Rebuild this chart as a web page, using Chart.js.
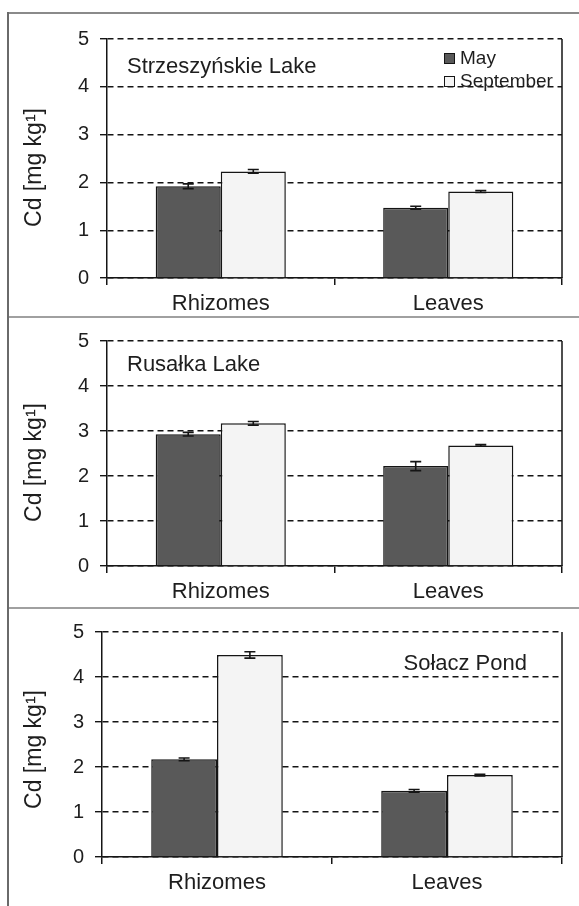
<!DOCTYPE html>
<html>
<head>
<meta charset="utf-8">
<script src="https://cdn.jsdelivr.net/npm/chart.js@4.4.0/dist/chart.umd.min.js"></script>
<style>
  html, body { margin: 0; padding: 0; background: #fff; }
  #page { position: relative; width: 579px; height: 906px; overflow: hidden; }
  #page canvas { position: absolute; left: 9px; }
  .rule { position: absolute; background: #8a8a8a; }
</style>
</head>
<body>
<div id="page">
  <div class="rule" style="left:7px; top:12px; width:572px; height:2px;"></div>
  <div class="rule" style="left:7px; top:12px; width:2px; height:894px; background:#6a6a6a;"></div>
  <div class="rule" style="left:9px; top:316px; width:570px; height:2px; background:#a0a0a0;"></div>
  <div class="rule" style="left:9px; top:607px; width:570px; height:2px; background:#a0a0a0;"></div>
  <canvas id="panel-strz" width="570" height="302" style="top:14px"></canvas>
  <canvas id="panel-rus" width="570" height="289" style="top:318px"></canvas>
  <canvas id="panel-sol" width="570" height="297" style="top:609px"></canvas>
</div>
<script>
// categories and tick labels
const categories = ['Rhizomes', 'Leaves'];
const yTicks = [0, 1, 2, 3, 4, 5];
const seriesNames = ['May', 'September'];

// Strzeszyńskie Lake
const strzMay = [1.92, 1.47];
const strzSep = [2.23, 1.81];
const strzMayErr = [0.05, 0.03];
const strzSepErr = [0.04, 0.02];

// Rusałka Lake
const rusMay = [2.93, 2.22];
const rusSep = [3.17, 2.68];
const rusMayErr = [0.04, 0.10];
const rusSepErr = [0.04, 0.02];

// Sołacz Pond
const solMay = [2.17, 1.47];
const solSep = [4.49, 1.82];
const solMayErr = [0.03, 0.03];
const solSepErr = [0.07, 0.02];

const FONT = "'Liberation Sans', Arial, Helvetica, sans-serif";
const TEXT = '#1e1e1e';
const LINE = '#151515';
const MAY_COLOR = '#595959';
const SEP_COLOR = '#f4f4f4';

/**
 * Draws error bars, right frame line, axis title, panel name and (optionally) legend
 */
const panelDecor = {
    id: 'panelDecor',
    afterDatasetsDraw(chart, args, opts) {
        const ctx = chart.ctx;
        const area = chart.chartArea;
        const yScale = chart.scales.y;

        // right frame
        ctx.save();
        ctx.strokeStyle = LINE;
        ctx.lineWidth = 1.5;
        ctx.beginPath();
        ctx.moveTo(Math.round(area.right), area.top);
        ctx.lineTo(Math.round(area.right), area.bottom);
        ctx.stroke();

        // error bars
        ctx.lineWidth = 1.6;
        chart.data.datasets.forEach((ds, di) => {
            const meta = chart.getDatasetMeta(di);
            meta.data.forEach((bar, i) => {
                const v = ds.data[i];
                const e = ds.errors[i];
                const yHi = yScale.getPixelForValue(v + e);
                const yLo = yScale.getPixelForValue(v - e);
                const x = bar.x;
                ctx.beginPath();
                ctx.moveTo(x, yHi);
                ctx.lineTo(x, yLo);
                ctx.moveTo(x - 5.5, yHi);
                ctx.lineTo(x + 5.5, yHi);
                ctx.moveTo(x - 5.5, yLo);
                ctx.lineTo(x + 5.5, yLo);
                ctx.stroke();
            });
        });

        // y axis title
        ctx.fillStyle = TEXT;
        ctx.font = '23px ' + FONT;
        ctx.textAlign = 'center';
        ctx.textBaseline = 'middle';
        ctx.save();
        ctx.translate(26, (area.top + area.bottom) / 2 + opts.titleShift);
        ctx.rotate(-Math.PI / 2);
        ctx.fillText('Cd [mg kg\u00B9]', 0, 0);
        ctx.restore();

        // panel name
        ctx.font = '22px ' + FONT;
        ctx.textBaseline = 'middle';
        if (opts.nameAlign === 'right') {
            ctx.textAlign = 'right';
            ctx.fillText(opts.name, area.right + opts.nameX, area.top + opts.nameY);
        } else {
            ctx.textAlign = 'left';
            ctx.fillText(opts.name, area.left + opts.nameX, area.top + opts.nameY);
        }

        // legend
        if (opts.legend) {
            ctx.font = '19px ' + FONT;
            ctx.textAlign = 'left';
            chart.data.datasets.forEach((ds, di) => {
                const cy = Math.round(area.top + 19 + di * 23);
                const sx = Math.round(area.right - 118);
                ctx.fillStyle = ds.backgroundColor;
                ctx.fillRect(sx, cy - 5, 11, 11);
                ctx.strokeStyle = LINE;
                ctx.lineWidth = 1;
                ctx.strokeRect(sx + 0.5, cy - 4.5, 10, 10);
                ctx.fillStyle = TEXT;
                ctx.fillText(ds.label, area.right - 102, cy + 1);
            });
        }
        ctx.restore();
    }
};

function buildPanel(canvasId, may, sep, mayErr, sepErr, layout, decor) {
    const canvas = document.getElementById(canvasId);
    const ctx = canvas.getContext('2d');

    return new Chart(ctx, {
        type: 'bar',
        data: {
            labels: categories,
            datasets: [{
                label: seriesNames[0],
                data: may,
                errors: mayErr,
                backgroundColor: MAY_COLOR,
                borderColor: LINE,
                borderWidth: 1.5,
                categoryPercentage: 0.572,
                barPercentage: 1
            }, {
                label: seriesNames[1],
                data: sep,
                errors: sepErr,
                backgroundColor: SEP_COLOR,
                borderColor: LINE,
                borderWidth: 1.5,
                categoryPercentage: 0.572,
                barPercentage: 1
            }]
        },
        options: {
            responsive: false,
            animation: false,
            layout: {
                padding: { top: layout.top, right: layout.right, left: 0, bottom: 0 }
            },
            plugins: {
                legend: { display: false },
                tooltip: { enabled: false },
                panelDecor: decor
            },
            scales: {
                x: {
                    grid: {
                        offset: true,
                        drawOnChartArea: false,
                        drawTicks: true,
                        tickLength: 7,
                        lineWidth: 1.5,
                        color: LINE
                    },
                    border: { color: LINE, width: 1.5 },
                    ticks: {
                        color: TEXT,
                        padding: 6,
                        font: { family: FONT, size: 22 }
                    },
                    afterFit: (scale) => { scale.height = layout.xHeight; }
                },
                y: {
                    min: 0,
                    max: 5,
                    afterBuildTicks: (scale) => {
                        scale.ticks = yTicks.map(v => ({ value: v }));
                    },
                    grid: {
                        color: LINE,
                        lineWidth: 1.4,
                        tickLength: 7,
                        drawTicks: true
                    },
                    border: { color: LINE, width: 1.5, dash: [6, 4] },
                    ticks: {
                        color: TEXT,
                        padding: 11,
                        font: { family: FONT, size: 20 }
                    },
                    afterFit: (scale) => { scale.width = layout.yWidth; }
                }
            }
        },
        plugins: [panelDecor]
    });
}

buildPanel('panel-strz', strzMay, strzSep, strzMayErr, strzSepErr,
    { top: 25, right: 17, xHeight: 38, yWidth: 98 },
    { name: 'Strzeszyńskie Lake', nameX: 20, nameY: 28, nameAlign: 'left', legend: true, titleShift: 9 });

buildPanel('panel-rus', rusMay, rusSep, rusMayErr, rusSepErr,
    { top: 13, right: 17, xHeight: 41, yWidth: 98 },
    { name: 'Rusałka Lake', nameX: 20, nameY: 24, nameAlign: 'left', legend: false, titleShift: 9 });

buildPanel('panel-sol', solMay, solSep, solMayErr, solSepErr,
    { top: 14, right: 17, xHeight: 49, yWidth: 93 },
    { name: 'Sołacz Pond', nameX: -35, nameY: 32, nameAlign: 'right', legend: false, titleShift: 5 });
</script>
</body>
</html>
